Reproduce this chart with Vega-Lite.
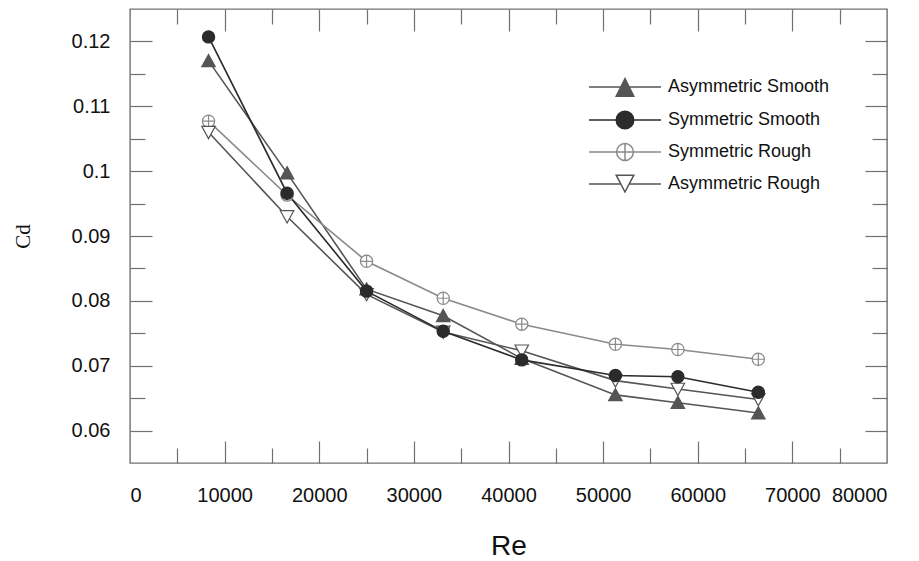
{
  "$schema": "https://vega.github.io/schema/vega-lite/v6.json",
  "width": 757,
  "height": 454,
  "autosize": {"type": "none"},
  "padding": {"left": 130, "top": 9, "right": 32, "bottom": 98},
  "background": "white",
  "config": {
    "view": {"stroke": "#707070", "strokeWidth": 1.4},
    "axis": {"grid": false, "domain": false, "tickColor": "#707070", "tickWidth": 1.2, "labelFont": "Liberation Sans", "labelColor": "#111111", "titleColor": "#111111", "titleFontWeight": "normal"}
  },
  "data": {
    "values": [
      {"series": "Asymmetric Smooth", "Re": 8300, "Cd": 0.1170},
      {"series": "Asymmetric Smooth", "Re": 16600, "Cd": 0.0997},
      {"series": "Asymmetric Smooth", "Re": 25000, "Cd": 0.0818},
      {"series": "Asymmetric Smooth", "Re": 33100, "Cd": 0.0777},
      {"series": "Asymmetric Smooth", "Re": 41400, "Cd": 0.0711},
      {"series": "Asymmetric Smooth", "Re": 51300, "Cd": 0.0655},
      {"series": "Asymmetric Smooth", "Re": 57900, "Cd": 0.0643},
      {"series": "Asymmetric Smooth", "Re": 66400, "Cd": 0.0627},
      {"series": "Symmetric Rough", "Re": 8300, "Cd": 0.1077},
      {"series": "Symmetric Rough", "Re": 16600, "Cd": 0.0963},
      {"series": "Symmetric Rough", "Re": 25000, "Cd": 0.0861},
      {"series": "Symmetric Rough", "Re": 33100, "Cd": 0.0804},
      {"series": "Symmetric Rough", "Re": 41400, "Cd": 0.0764},
      {"series": "Symmetric Rough", "Re": 51300, "Cd": 0.0733},
      {"series": "Symmetric Rough", "Re": 57900, "Cd": 0.0725},
      {"series": "Symmetric Rough", "Re": 66400, "Cd": 0.0710},
      {"series": "Asymmetric Rough", "Re": 8300, "Cd": 0.1060},
      {"series": "Asymmetric Rough", "Re": 16600, "Cd": 0.0930},
      {"series": "Asymmetric Rough", "Re": 25000, "Cd": 0.0810},
      {"series": "Asymmetric Rough", "Re": 33100, "Cd": 0.0752},
      {"series": "Asymmetric Rough", "Re": 41400, "Cd": 0.0723},
      {"series": "Asymmetric Rough", "Re": 51300, "Cd": 0.0677},
      {"series": "Asymmetric Rough", "Re": 57900, "Cd": 0.0664},
      {"series": "Asymmetric Rough", "Re": 66400, "Cd": 0.0648},
      {"series": "Symmetric Smooth", "Re": 8300, "Cd": 0.1207},
      {"series": "Symmetric Smooth", "Re": 16600, "Cd": 0.0966},
      {"series": "Symmetric Smooth", "Re": 25000, "Cd": 0.0815},
      {"series": "Symmetric Smooth", "Re": 33100, "Cd": 0.0753},
      {"series": "Symmetric Smooth", "Re": 41400, "Cd": 0.0709},
      {"series": "Symmetric Smooth", "Re": 51300, "Cd": 0.0685},
      {"series": "Symmetric Smooth", "Re": 57900, "Cd": 0.0683},
      {"series": "Symmetric Smooth", "Re": 66400, "Cd": 0.0659}
    ]
  },
  "resolve": {
    "axis": {"x": "independent", "y": "independent"},
    "scale": {"shape": "independent", "fill": "independent", "stroke": "independent"}
  },
  "layer": [
    {
      "mark": {"type": "line", "strokeWidth": 1.6},
      "encoding": {
        "x": {"field": "Re", "type": "quantitative", "scale": {"domain": [0, 80000], "nice": false, "zero": false},
          "axis": {"orient": "bottom", "values": [0, 10000, 20000, 30000, 40000, 50000, 60000, 70000, 80000], "format": "d", "ticks": false, "labelPadding": 22, "labelFontSize": 20, "title": "Re", "titleFont": "Liberation Sans", "titleFontSize": 28, "titlePadding": 27}},
        "y": {"field": "Cd", "type": "quantitative", "scale": {"domain": [0.055, 0.125], "nice": false, "zero": false},
          "axis": {"orient": "left", "values": [0.06, 0.07, 0.08, 0.09, 0.1, 0.11, 0.12], "format": "~g", "ticks": false, "labelPadding": 20, "labelFontSize": 20, "title": "Cd", "titleFont": "Liberation Serif", "titleFontSize": 21, "titlePadding": 38}},
        "detail": {"field": "series"},
        "color": {"field": "series", "type": "nominal", "legend": null,
          "scale": {"domain": ["Asymmetric Rough", "Symmetric Rough", "Symmetric Smooth", "Asymmetric Smooth"], "range": ["#555555", "#8a8a8a", "#2b2b2b", "#555555"]}},
        "strokeWidth": {"field": "series", "type": "nominal", "legend": null,
          "scale": {"domain": ["Asymmetric Rough", "Symmetric Rough", "Symmetric Smooth", "Asymmetric Smooth"], "range": [1.6, 1.6, 2.0, 1.6]}}
      }
    },
    {
      "mark": {"type": "point", "filled": false, "strokeWidth": 1.2, "size": 150, "opacity": 1},
      "encoding": {
        "x": {"field": "Re", "type": "quantitative",
          "axis": {"orient": "bottom", "values": [10000, 20000, 30000, 40000, 50000, 60000, 70000], "ticks": true, "tickSize": -22, "labels": false, "title": null}},
        "y": {"field": "Cd", "type": "quantitative",
          "axis": {"orient": "left", "values": [0.06, 0.07, 0.08, 0.09, 0.1, 0.11, 0.12], "ticks": true, "tickSize": -22, "labels": false, "title": null}},
        "shape": {"field": "series", "type": "nominal", "legend": null,
          "scale": {"domain": ["Asymmetric Rough", "Symmetric Rough", "Symmetric Smooth", "Asymmetric Smooth"],
            "range": ["M-1.1,-0.95L1.1,-0.95L0,1.05Z", "M-1,0A1,1 0 1,1 1,0A1,1 0 1,1 -1,0Z M-1,0H1 M0,-1V1", "circle", "M0,-1.05L1.1,0.95L-1.1,0.95Z"]}},
        "fill": {"field": "series", "type": "nominal", "legend": null,
          "scale": {"domain": ["Asymmetric Rough", "Symmetric Rough", "Symmetric Smooth", "Asymmetric Smooth"], "range": ["#ffffff", "#ffffff", "#2b2b2b", "#555555"]}},
        "stroke": {"field": "series", "type": "nominal", "legend": null,
          "scale": {"domain": ["Asymmetric Rough", "Symmetric Rough", "Symmetric Smooth", "Asymmetric Smooth"], "range": ["#555555", "#8a8a8a", "#2b2b2b", "#555555"]}}
      }
    },
    {
      "mark": {"type": "point", "opacity": 0},
      "encoding": {
        "x": {"field": "Re", "type": "quantitative",
          "axis": {"orient": "bottom", "values": [5000, 15000, 25000, 35000, 45000, 55000, 65000, 75000], "ticks": true, "tickSize": -15, "labels": false, "title": null}},
        "y": {"field": "Cd", "type": "quantitative",
          "axis": {"orient": "left", "values": [0.065, 0.075, 0.085, 0.095, 0.105, 0.115], "ticks": true, "tickSize": -15, "labels": false, "title": null}}
      }
    },
    {
      "mark": {"type": "point", "opacity": 0},
      "encoding": {
        "x": {"field": "Re", "type": "quantitative",
          "axis": {"orient": "top", "values": [10000, 20000, 30000, 40000, 50000, 60000, 70000], "ticks": true, "tickSize": -22, "labels": false, "title": null}},
        "y": {"field": "Cd", "type": "quantitative",
          "axis": {"orient": "right", "values": [0.06, 0.07, 0.08, 0.09, 0.1, 0.11, 0.12], "ticks": true, "tickSize": -22, "labels": false, "title": null}}
      }
    },
    {
      "mark": {"type": "point", "opacity": 0, "filled": false},
      "encoding": {
        "x": {"field": "Re", "type": "quantitative",
          "axis": {"orient": "top", "values": [5000, 15000, 25000, 35000, 45000, 55000, 65000, 75000], "ticks": true, "tickSize": -15, "labels": false, "title": null}},
        "y": {"field": "Cd", "type": "quantitative",
          "axis": {"orient": "right", "values": [0.065, 0.075, 0.085, 0.095, 0.105, 0.115], "ticks": true, "tickSize": -15, "labels": false, "title": null}},
        "shape": {"field": "series", "type": "nominal",
          "scale": {"domain": ["Asymmetric Smooth", "Symmetric Smooth", "Symmetric Rough", "Asymmetric Rough"],
            "range": ["M0,-1.05L1.1,1.15L-1.1,1.15Z M-4.5,0H-0.53 M0.53,0H4.5", "M-1.1,0A1.1,1.1 0 1,1 1.1,0A1.1,1.1 0 1,1 -1.1,0Z M-4.5,0H-1.1 M1.1,0H4.5", "M-1.05,0A1.05,1.05 0 1,1 1.05,0A1.05,1.05 0 1,1 -1.05,0Z M-4.5,0H4.5 M0,-1.05V1.05", "M-1.1,-1.1L1.1,-1.1L0,1Z M-4.5,0H-0.52 M0.52,0H4.5"]},
          "legend": {"orient": "none", "legendX": 486, "legendY": 69, "padding": 0, "title": null,
            "symbolSize": 256, "symbolOpacity": 1, "labelOffset": 34, "labelLimit": 400, "labelFont": "Liberation Sans", "labelFontSize": 18, "labelColor": "#111111", "rowPadding": 8, "symbolStrokeWidth": 1.5}},
        "fill": {"field": "series", "type": "nominal",
          "scale": {"domain": ["Asymmetric Smooth", "Symmetric Smooth", "Symmetric Rough", "Asymmetric Rough"], "range": ["#555555", "#2b2b2b", "#ffffff", "#ffffff"]},
          "legend": {"orient": "none", "legendX": 486, "legendY": 69, "padding": 0, "title": null,
            "symbolSize": 256, "symbolOpacity": 1, "labelOffset": 34, "labelLimit": 400, "labelFont": "Liberation Sans", "labelFontSize": 18, "labelColor": "#111111", "rowPadding": 8, "symbolStrokeWidth": 1.5}},
        "stroke": {"field": "series", "type": "nominal",
          "scale": {"domain": ["Asymmetric Smooth", "Symmetric Smooth", "Symmetric Rough", "Asymmetric Rough"], "range": ["#555555", "#2b2b2b", "#8a8a8a", "#555555"]},
          "legend": {"orient": "none", "legendX": 486, "legendY": 69, "padding": 0, "title": null,
            "symbolSize": 256, "symbolOpacity": 1, "labelOffset": 34, "labelLimit": 400, "labelFont": "Liberation Sans", "labelFontSize": 18, "labelColor": "#111111", "rowPadding": 8, "symbolStrokeWidth": 1.5}}
      }
    }
  ]
}
